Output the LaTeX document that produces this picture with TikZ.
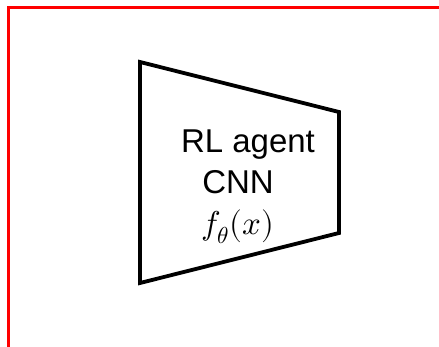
\documentclass[tikz,border=0pt]{standalone}
\usepackage{fontspec}
\usepackage{unicode-math}
\setmainfont{Liberation Sans}
\setmathfont{Latin Modern Math}
\begin{document}
\begin{tikzpicture}[x=1pt,y=-1pt,
  frameline/.style={draw=red,line width=3pt},
  trap/.style={draw=black,line width=3.8pt,line join=miter},
  lbl/.style={font=\fontsize{33}{40}\selectfont,inner sep=0pt,anchor=base}]
\useasboundingbox (0,0) rectangle (439,347);
\coordinate (fbl) at (8,347);
\coordinate (ftl) at (8,8);
\coordinate (ftr) at (439,8);
\draw[frameline] (fbl) -- (ftl) -- (ftr);
\coordinate (a) at (140,62);
\coordinate (b) at (339,112);
\coordinate (c) at (339,233);
\coordinate (d) at (140,283);
\draw[trap] (a) -- (b) -- (c) -- (d) -- cycle;
\node[lbl] (t1) at (248,153) {RL agent};
\node[lbl] (t2) at (238,194) {CNN};
\node[lbl] (t3) at (238,235) {$f_\theta(x)$};
\end{tikzpicture}
\end{document}
